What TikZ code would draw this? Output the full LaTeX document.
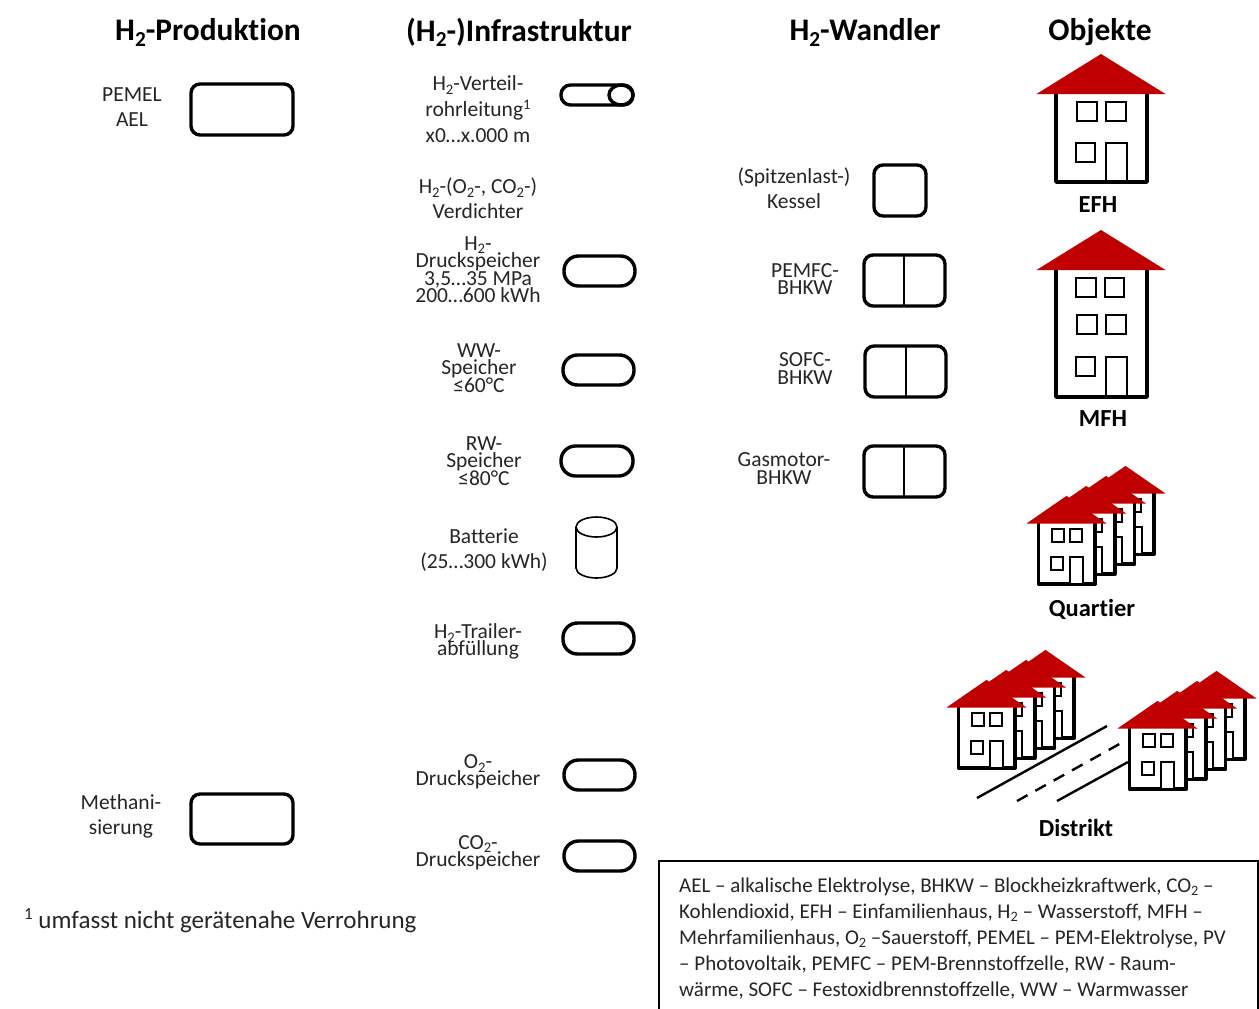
\documentclass[tikz,border=0pt]{standalone}
\usepackage{fontspec}
\setmainfont{Carlito}[Ligatures={NoCommon}]
\definecolor{dach}{HTML}{C00000}
\definecolor{schrift}{HTML}{262626}
\newcommand\tief[1]{\raisebox{-0.35ex}{\scalebox{.68}{#1}}}
\newcommand\hoch[1]{\raisebox{0.75ex}{\scalebox{.68}{#1}}}
\newcommand\engzeilen{\lineskiplimit=-100pt\relax}
\tikzset{
  kopf/.style={inner sep=0,text=black,font=\fontsize{31.4}{32}\selectfont\bfseries},
  objname/.style={inner sep=0,text=black,font=\fontsize{24.5}{26}\selectfont\bfseries},
  weit/.style={inner sep=0,align=center,text=schrift,font=\fontsize{21.5}{25}\selectfont},
  eng/.style={inner sep=0,align=center,text=schrift,font=\fontsize{21.5}{17.4}\selectfont\engzeilen},
  kasten/.style={draw=black,line width=3.4pt,rounded corners=9pt,fill=white},
  pille/.style={draw=black,line width=3.4pt,rounded corners=14.5pt,fill=white},
  wand/.style={draw=black,line width=3.6pt},
  fenster/.style={draw=black,line width=2pt,fill=white},
  strasse/.style={draw=black,line width=2.4pt},
}
% house: origin at the centre of the roof base
\newcommand\haus[4]{%
  \begin{scope}[shift={(#1,#2)},xscale=#3,yscale=#4]
    \path[wand,fill=white,line join=round] (-45,-2) -- (-45,88) -- (46,88) -- (46,-2);
    \path[fenster] (-24,8) rectangle (-4,27);
    \path[fenster] (5,8) rectangle (25,27);
    \path[fenster] (-25,49) rectangle (-6,68);
    \path[fenster] (5,49) rectangle (26,87);
    \fill[dach] (0,-40) -- (64.5,0) -- (-64.5,0) -- cycle;
  \end{scope}}
\newcommand\reihe[2]{%
  \haus{#1+59}{#2-30}{.62}{.69}
  \haus{#1+39.5}{#2-20}{.62}{.69}
  \haus{#1+19.7}{#2-10}{.62}{.69}
  \haus{#1}{#2}{.62}{.69}}
\begin{document}
\begin{tikzpicture}[x=1pt,y=-1pt]
\useasboundingbox (0,0) rectangle (1259,1009);
\fill[white] (0,0) rectangle (1259,1009);
% headers
\node[kopf] (k1) at (208,32.5) {H\tief{2}-Produktion};
\node[kopf] (k2) at (519,32.5) {(H\tief{2}-)Infrastruktur};
\node[kopf] (k3) at (865,32.5) {H\tief{2}-Wandler};
\node[kopf] (k4) at (1100,32.5) {Objekte};
% production
\node[weit] (t1) at (132,107.5) {PEMEL\\AEL};
\path[kasten] (191,84) rectangle (293,135);
\node[weit] (t2) at (121,816.5) {Methani-\\sierung};
\path[kasten] (191,794) rectangle (293,844);
\node[weit,anchor=west,font=\fontsize{25}{25}\selectfont] (fn) at (24,920.5) {\hoch{1} umfasst nicht gerätenahe Verrohrung};
% infrastructure
\node[weit,font=\fontsize{21.5}{26}\selectfont] (t3) at (478,109.5) {H\tief{2}-Verteil-\\rohrleitung\hoch{1}\\x0…x.000 m};
\path[draw=black,line width=3.4pt,rounded corners=9.5pt,fill=white] (561,85) rectangle (633,105);
\path[draw=black,line width=3.4pt,fill=white] (621,95) ellipse [x radius=12,y radius=10];
\node[weit] (t4) at (478,198.5) {H\tief{2}-(O\tief{2}-, CO\tief{2}-)\\Verdichter};
\node[eng] (t5) at (478,269.5) {H\tief{2}-\\Druckspeicher\\3,5…35 MPa\\200…600 kWh};
\path[pille] (564,256) rectangle (635,286);
\node[eng] (t6) at (479,368) {WW-\\Speicher\\≤60°C};
\path[pille] (563,355) rectangle (634,385);
\node[eng] (t7) at (484,461) {RW-\\Speicher\\≤80°C};
\path[pille] (561,446) rectangle (633,476);
\node[weit] (t8) at (484,550) {Batterie\\(25…300 kWh)};
\path[draw=black,line width=1.6pt,fill=white] (576,527) -- (576,568) arc [start angle=180,end angle=0,x radius=20.5,y radius=10] -- (617,527);
\path[draw=black,line width=1.6pt,fill=white] (596.5,527) ellipse [x radius=20.5,y radius=10];
\node[eng] (t9) at (478,641.5) {H\tief{2}-Trailer-\\abfüllung};
\path[pille] (563,623) rectangle (634,654);
\node[eng] (t10) at (478,772) {O\tief{2}-\\Druckspeicher};
\path[pille] (564,760) rectangle (635,790);
\node[eng] (t11) at (478,852.5) {CO\tief{2}-\\Druckspeicher};
\path[pille] (564,841) rectangle (635,871);
% converters
\node[weit] (t12) at (794,188) {(Spitzenlast-)\\Kessel};
\path[kasten] (874,165) rectangle (926,216);
\node[eng] (t13) at (805,279) {PEMFC-\\BHKW};
\path[kasten] (864,255) rectangle (945,306);
\draw[line width=1.6pt] (904,255) -- (904,306);
\node[eng] (t14) at (805,368.5) {SOFC-\\BHKW};
\path[kasten] (865,346) rectangle (946,397);
\draw[line width=1.6pt] (906,346) -- (906,397);
\node[eng] (t15) at (784,468.5) {Gasmotor-\\BHKW};
\path[kasten] (864,446) rectangle (945,497);
\draw[line width=1.6pt] (904,446) -- (904,497);
% EFH
\haus{1101}{94}{1}{1}
\node[objname] (efh) at (1098,204.5) {EFH};
% MFH
\path[wand,fill=white,line join=round] (1056,268) -- (1056,397) -- (1147,397) -- (1147,268);
\path[fenster] (1076,278) rectangle (1096,297);
\path[fenster] (1105,278) rectangle (1124,297);
\path[fenster] (1077,315) rectangle (1097,334);
\path[fenster] (1106,315) rectangle (1126,334);
\path[fenster] (1076,357) rectangle (1095,376);
\path[fenster] (1106,357) rectangle (1127,396);
\fill[dach] (1101,230) -- (1165.5,270) -- (1036.5,270) -- cycle;
\node[objname] (mfh) at (1103,418.5) {MFH};
% Quartier
\reihe{1066.5}{523.5}
\node[objname] (q) at (1092,609) {Quartier};
% Distrikt
\draw[strasse] (977,798) -- (1107,726);
\draw[strasse,dash pattern=on 12pt off 9pt] (1017,801) -- (1123,742);
\draw[strasse] (1057,801) -- (1128,762);
\reihe{986.5}{707.5}
\reihe{1157.5}{728.5}
\node[objname] (d) at (1076,828) {Distrikt};
% legend
\draw[line width=1.8pt] (659,1012) -- (659,861) -- (1258,861) -- (1258,1012);
\node[inner sep=0,anchor=north west,align=left,text=schrift,font=\fontsize{21}{26}\selectfont] (leg) at (679,877.5) {AEL – alkalische Elektrolyse, BHKW – Blockheizkraftwerk, CO\tief{2} –\\Kohlendioxid, EFH – Einfamilienhaus, H\tief{2} – Wasserstoff, MFH –\\Mehrfamilienhaus, O\tief{2} –Sauerstoff, PEMEL – PEM-Elektrolyse, PV\\– Photovoltaik, PEMFC – PEM-Brennstoffzelle, RW - Raum-\\wärme, SOFC – Festoxidbrennstoffzelle, WW – Warmwasser};
\end{tikzpicture}
\end{document}
